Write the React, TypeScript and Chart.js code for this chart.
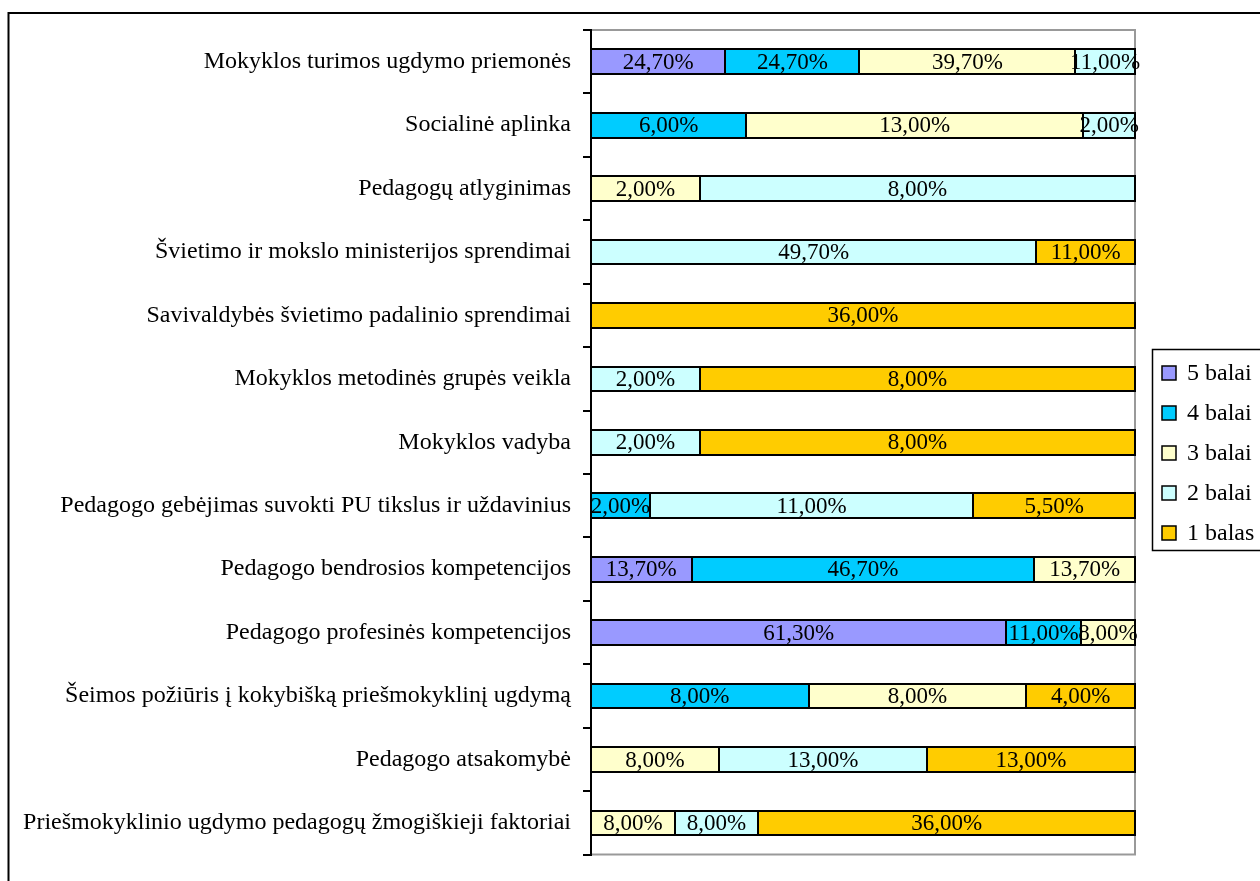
import React, { useEffect, useRef } from "react";
import { Chart, registerables } from "chart.js";

Chart.register(...registerables);

const categories = [
  "Mokyklos turimos ugdymo priemonės",
  "Socialinė aplinka",
  "Pedagogų atlyginimas",
  "Švietimo ir mokslo ministerijos sprendimai",
  "Savivaldybės švietimo padalinio sprendimai",
  "Mokyklos metodinės grupės veikla",
  "Mokyklos vadyba",
  "Pedagogo gebėjimas suvokti PU tikslus ir uždavinius",
  "Pedagogo bendrosios kompetencijos",
  "Pedagogo profesinės kompetencijos",
  "Šeimos požiūris į kokybišką priešmokyklinį ugdymą",
  "Pedagogo atsakomybė",
  "Priešmokyklinio ugdymo pedagogų žmogiškieji faktoriai",
];

const seriesLabels = ["5 balai", "4 balai", "3 balai", "2 balai", "1 balas"];

const balai5: (number | null)[] = [24.7, null, null, null, null, null, null, null, 13.7, 61.3, null, null, null];
const balai4: (number | null)[] = [24.7, 6, null, null, null, null, null, 2, 46.7, 11, 8, null, null];
const balai3: (number | null)[] = [39.7, 13, 2, null, null, null, null, null, 13.7, 8, 8, 8, 8];
const balai2: (number | null)[] = [11, 2, 8, 49.7, null, 2, 2, 11, null, null, null, 13, 8];
const balas1: (number | null)[] = [null, null, null, 11, 36, 8, 8, 5.5, null, null, 4, 13, 36];

const seriesColors = ["#9999FF", "#00CCFF", "#FFFFCC", "#CCFFFF", "#FFCC00"];

const rawSeries = [balai5, balai4, balai3, balai2, balas1];

const FONT = "'Liberation Serif', 'Times New Roman', serif";

const fmt = (v: number) => v.toFixed(2).replace(".", ",") + "%";

const totals = categories.map((_, i) =>
  rawSeries.reduce((s, arr) => s + (arr[i] ?? 0), 0)
);

const frameAndLabels = {
  id: "frameAndLabels",
  beforeDraw(chart: any) {
    const ctx = chart.ctx;
    ctx.save();
    ctx.fillStyle = "#fff";
    ctx.fillRect(0, 0, chart.width, chart.height);
    ctx.strokeStyle = "#000";
    ctx.lineWidth = 2;
    ctx.beginPath();
    ctx.moveTo(8.5, chart.height);
    ctx.lineTo(8.5, 13);
    ctx.lineTo(chart.width, 13);
    ctx.stroke();
    ctx.restore();
  },
  beforeDatasetsDraw(chart: any) {
    const ctx = chart.ctx;
    const a = chart.chartArea;
    ctx.save();
    ctx.strokeStyle = "#999";
    ctx.lineWidth = 2;
    ctx.beginPath();
    ctx.moveTo(a.left + 1, a.top);
    ctx.lineTo(a.right, a.top);
    ctx.lineTo(a.right, a.bottom);
    ctx.lineTo(a.left + 1, a.bottom);
    ctx.stroke();
    ctx.restore();
  },
  afterDatasetsDraw(chart: any) {
    const ctx = chart.ctx;
    ctx.save();
    // segment borders
    ctx.strokeStyle = "#000";
    ctx.lineWidth = 2;
    chart.data.datasets.forEach((_: any, di: number) => {
      const meta = chart.getDatasetMeta(di);
      meta.data.forEach((el: any, i: number) => {
        if (rawSeries[di][i] == null) return;
        const p = el.getProps(["x", "base", "y", "height"], true);
        const x0 = Math.round(Math.min(p.x, p.base));
        const x1 = Math.round(Math.max(p.x, p.base));
        const y0 = Math.round(p.y - p.height / 2);
        const y1 = Math.round(p.y + p.height / 2);
        ctx.strokeRect(x0, y0, x1 - x0, y1 - y0);
      });
    });
    // value labels
    ctx.font = `23px ${FONT}`;
    ctx.fillStyle = "#000";
    ctx.textAlign = "center";
    ctx.textBaseline = "middle";
    chart.data.datasets.forEach((_: any, di: number) => {
      const meta = chart.getDatasetMeta(di);
      meta.data.forEach((el: any, i: number) => {
        const raw = rawSeries[di][i];
        if (raw == null) return;
        const p = el.getProps(["x", "base", "y"], true);
        ctx.fillText(fmt(raw), (p.x + p.base) / 2, p.y + 1);
      });
    });
    ctx.restore();
  },
  afterDraw(chart: any) {
    const ctx = chart.ctx;
    ctx.save();
    const left = 1152.5;
    const top = 349.5;
    const bottom = 550.5;
    ctx.strokeStyle = "#000";
    ctx.lineWidth = 1.5;
    ctx.beginPath();
    ctx.moveTo(chart.width + 2, top);
    ctx.lineTo(left, top);
    ctx.lineTo(left, bottom);
    ctx.lineTo(chart.width + 2, bottom);
    ctx.stroke();
    ctx.font = `24px ${FONT}`;
    ctx.textAlign = "left";
    ctx.textBaseline = "middle";
    chart.data.datasets.forEach((ds: any, di: number) => {
      const cy = 373 + di * 40;
      ctx.fillStyle = ds.backgroundColor;
      ctx.fillRect(1162, cy - 7, 14, 14);
      ctx.strokeStyle = "#000";
      ctx.lineWidth = 1.5;
      ctx.strokeRect(1162, cy - 7, 14, 14);
      ctx.fillStyle = "#000";
      ctx.fillText(ds.label, 1187, cy + 1);
    });
    ctx.restore();
  },
};

export default function App() {
  const ref = useRef<HTMLCanvasElement | null>(null);

  useEffect(() => {
    if (!ref.current) return;
    const datasets = rawSeries.map((arr, di) => ({
      label: seriesLabels[di],
      data: arr.map((v, i) => (v == null ? null : (v / totals[i]) * 100)),
      backgroundColor: seriesColors[di],
      borderWidth: 0,
      borderSkipped: false,
      categoryPercentage: 1,
      barPercentage: 0.39,
    }));
    const chart = new Chart(ref.current, {
      type: "bar",
      data: { labels: categories, datasets },
      options: {
        indexAxis: "y",
        animation: false,
        responsive: false,
        devicePixelRatio: 1,
        layout: { padding: { top: 30, bottom: 10, right: 125, left: 0 } },
        plugins: {
          legend: { display: false },
          tooltip: { enabled: false },
        },
        scales: {
          x: {
            display: false,
            stacked: true,
            min: 0,
            max: 100,
          },
          y: {
            stacked: true,
            offset: true,
            afterFit: (scale: any) => {
              scale.width = 591;
            },
            grid: {
              offset: true,
              drawOnChartArea: false,
              drawTicks: true,
              tickLength: 8,
              color: "#000",
              lineWidth: 2,
            },
            border: { display: true, color: "#000", width: 2 },
            ticks: {
              color: "#000",
              padding: 12,
              autoSkip: false,
              font: { family: FONT, size: 24 },
            },
          },
        },
      },
      plugins: [frameAndLabels],
    } as any);
    return () => chart.destroy();
  }, []);

  return (
    <div style={{ position: "fixed", left: 0, top: 0, width: 1260, height: 881, background: "#fff" }}>
      <canvas ref={ref} width={1260} height={881} style={{ display: "block" }} />
    </div>
  );
}
